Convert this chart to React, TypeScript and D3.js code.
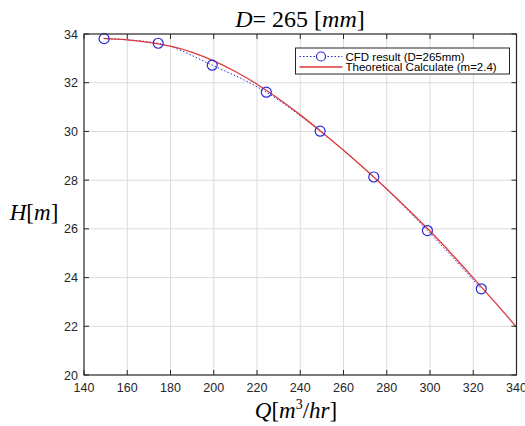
import React from "react";
import * as d3 from "d3";

// CFD points
const cfdQ = [149.3, 174.3, 199.3, 224.3, 249.2, 274.0, 298.8, 323.7];
const cfdH = [33.81, 33.62, 32.72, 31.61, 30.01, 28.13, 25.93, 23.54];

// theoretical curve (m = 2.4)
const theoQ = [149, 160, 170, 180, 190, 200, 210, 220, 230, 240, 250, 260, 270, 280, 290, 300, 310, 320, 330, 340];
const theoH = [33.82, 33.76, 33.66, 33.5, 33.25, 32.9, 32.46, 31.94, 31.34, 30.68, 29.97, 29.23, 28.45, 27.64, 26.79, 25.91, 24.97, 23.99, 22.99, 21.97];

const xTicks = [140, 160, 180, 200, 220, 240, 260, 280, 300, 320, 340];
const yTicks = [20, 22, 24, 26, 28, 30, 32, 34];

const legendLabels = ["CFD result (D=265mm)", "Theoretical Calculate (m=2.4)"];

const W = 525;
const H = 426;
const plot = { left: 84, right: 516.5, top: 34, bottom: 375 };

const App = () => {
  const x = d3.scaleLinear().domain([140, 340]).range([plot.left, plot.right]);
  const y = d3.scaleLinear().domain([20, 34]).range([plot.bottom, plot.top]);

  const line = d3
    .line<number>()
    .x((d, i) => x(theoQ[i]))
    .y((d) => y(d))
    .curve(d3.curveMonotoneX);

  const cfdLine = d3
    .line<number>()
    .x((d, i) => x(cfdQ[i]))
    .y((d) => y(d))
    .curve(d3.curveMonotoneX);

  const blue = "#2b2bd6";
  const red = "#dd3a3a";
  const tickFont = "'Liberation Sans', Arial, sans-serif";
  const mathFont = "'Liberation Serif', 'Times New Roman', serif";
  const tl = 5;

  const legend = { x: 295.5, y: 48, w: 214, h: 26 };

  return (
    <svg
      width={W}
      height={H}
      style={{ position: "absolute", left: 0, top: 0, background: "#fff" }}
    >
      <rect x={0} y={0} width={W} height={H} fill="#fff" />

      {/* grid */}
      <g stroke="#dcdcdc" strokeWidth={1}>
        {xTicks.slice(1, -1).map((t) => (
          <line key={"gx" + t} x1={x(t)} x2={x(t)} y1={plot.top} y2={plot.bottom} />
        ))}
        {yTicks.slice(1, -1).map((t) => (
          <line key={"gy" + t} x1={plot.left} x2={plot.right} y1={y(t)} y2={y(t)} />
        ))}
      </g>

      {/* data */}
      <path d={cfdLine(cfdH) || ""} fill="none" stroke={blue} strokeWidth={1} strokeDasharray="1.5,2" />
      <path d={line(theoH) || ""} fill="none" stroke={red} strokeWidth={1.3} />
      {cfdH.map((h, i) => (
        <circle key={"c" + i} cx={x(cfdQ[i])} cy={y(h)} r={5} fill="none" stroke={blue} strokeWidth={1.2} />
      ))}

      {/* box and ticks */}
      <rect
        x={plot.left}
        y={plot.top}
        width={plot.right - plot.left}
        height={plot.bottom - plot.top}
        fill="none"
        stroke="#262626"
        strokeWidth={1.2}
      />
      <g stroke="#262626" strokeWidth={1}>
        {xTicks.map((t) => (
          <g key={"tx" + t}>
            <line x1={x(t)} x2={x(t)} y1={plot.bottom} y2={plot.bottom - tl} />
            <line x1={x(t)} x2={x(t)} y1={plot.top} y2={plot.top + tl} />
          </g>
        ))}
        {yTicks.map((t) => (
          <g key={"ty" + t}>
            <line x1={plot.left} x2={plot.left + tl} y1={y(t)} y2={y(t)} />
            <line x1={plot.right} x2={plot.right - tl} y1={y(t)} y2={y(t)} />
          </g>
        ))}
      </g>

      {/* tick labels */}
      <g fontFamily={tickFont} fontSize={12.5} fill="#262626">
        {xTicks.map((t) => (
          <text key={"lx" + t} x={x(t)} y={plot.bottom + 17} textAnchor="middle">
            {t}
          </text>
        ))}
        {yTicks.map((t) => (
          <text key={"ly" + t} x={plot.left - 6} y={y(t) + 4.5} textAnchor="end">
            {t}
          </text>
        ))}
      </g>

      {/* title and axis labels */}
      <text x={300} y={27} textAnchor="middle" fontFamily={mathFont} fontSize={24} fill="#000">
        <tspan fontStyle="italic">D</tspan>
        <tspan>= 265 [</tspan>
        <tspan fontStyle="italic">mm</tspan>
        <tspan>]</tspan>
      </text>
      <text x={296} y={418} textAnchor="middle" fontFamily={mathFont} fontSize={23} fill="#000">
        <tspan fontStyle="italic">Q</tspan>
        <tspan>[</tspan>
        <tspan fontStyle="italic">m</tspan>
        <tspan fontSize={14} dy={-9}>3</tspan>
        <tspan dy={9}>/</tspan>
        <tspan fontStyle="italic">hr</tspan>
        <tspan>]</tspan>
      </text>
      <text x={34} y={220} textAnchor="middle" fontFamily={mathFont} fontSize={23} fill="#000">
        <tspan fontStyle="italic">H</tspan>
        <tspan>[</tspan>
        <tspan fontStyle="italic">m</tspan>
        <tspan>]</tspan>
      </text>

      {/* legend */}
      <rect x={legend.x} y={legend.y} width={legend.w} height={legend.h} fill="#fff" stroke="#262626" strokeWidth={1} />
      <line x1={legend.x + 4} x2={legend.x + 47} y1={legend.y + 8.5} y2={legend.y + 8.5} stroke={blue} strokeDasharray="1.5,2" />
      <circle cx={legend.x + 25.5} cy={legend.y + 8.5} r={4.5} fill="#fff" stroke={blue} strokeWidth={1.2} />
      <line x1={legend.x + 4} x2={legend.x + 47} y1={legend.y + 19} y2={legend.y + 19} stroke={red} strokeWidth={1.3} />
      <g fontFamily={tickFont} fontSize={11.5} fill="#000">
        <text x={legend.x + 50} y={legend.y + 12.5}>{legendLabels[0]}</text>
        <text x={legend.x + 50} y={legend.y + 23}>{legendLabels[1]}</text>
      </g>
    </svg>
  );
};

export default App;
